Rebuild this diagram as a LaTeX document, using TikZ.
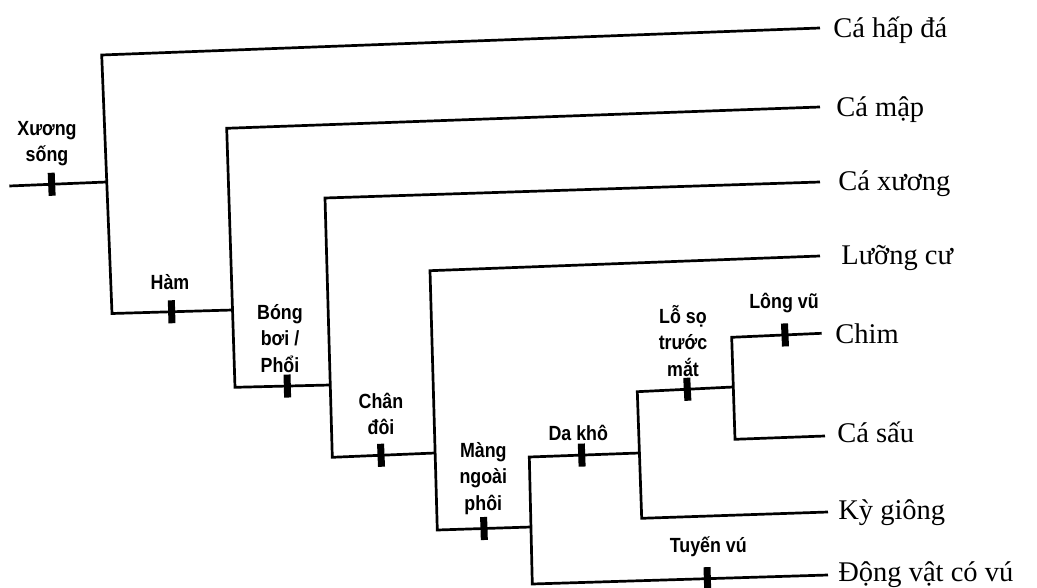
\documentclass[tikz,border=0pt]{standalone}
\usepackage{fontspec}
\setmainfont{Liberation Serif}
\newfontfamily\labfont{Liberation Sans}[FakeStretch=0.87]
\begin{document}
\begin{tikzpicture}[x=1pt,y=-1pt,line width=2.7pt,line join=miter,
  tick/.style={fill=black,draw=none,inner sep=0pt,minimum width=7pt,minimum height=23pt,sloped},
  trait/.style={font=\labfont\bfseries\fontsize{20.5}{26.5}\selectfont,align=center,inner sep=0pt},
  taxon/.style={font=\fontsize{28.5}{34}\selectfont,anchor=base west,inner sep=0pt}]
\useasboundingbox (0,0) rectangle (1037,588);
% corner / end coordinates
\coordinate (r0) at (9.3,186);
\coordinate (n1j) at (106.7,182);
\coordinate (n1t) at (101.7,55);
\coordinate (n1b) at (112,313.5);
\coordinate (n2j) at (232.5,310);
\coordinate (n2t) at (226.7,128.3);
\coordinate (n2b) at (235,387.3);
\coordinate (n3j) at (330.3,385);
\coordinate (n3t) at (325,198);
\coordinate (n3b) at (332.3,457.3);
\coordinate (n4j) at (435.1,453);
\coordinate (n4t) at (430,270.7);
\coordinate (n4b) at (437.3,530);
\coordinate (n5j) at (531,527);
\coordinate (n5t) at (529.3,457);
\coordinate (n5b) at (532.3,584);
\coordinate (n6j) at (639.4,453);
\coordinate (n6t) at (637.3,391.7);
\coordinate (n6b) at (641.7,518.3);
\coordinate (n7j) at (733.3,387);
\coordinate (n7t) at (731.7,337.3);
\coordinate (n7b) at (735,439.3);
\coordinate (e1) at (820,28);
\coordinate (e2) at (820,107);
\coordinate (e3) at (820,182);
\coordinate (e4) at (820,256);
\coordinate (e5) at (821.7,333.3);
\coordinate (e6) at (825,436);
\coordinate (e7) at (828,512);
\coordinate (e8) at (828,575);
% branches
\draw (r0) -- node[tick,pos=.435] (k1) {} (n1j);
\draw (e1) -- (n1t) -- (n1b) -- node[tick,pos=.495] (k2) {} (n2j);
\draw (e2) -- (n2t) -- (n2b) -- node[tick,pos=.549] (k3) {} (n3j);
\draw (e3) -- (n3t) -- (n3b) -- node[tick,pos=.474] (k4) {} (n4j);
\draw (e4) -- (n4t) -- (n4b) -- node[tick,pos=.498] (k5) {} (n5j);
\draw (n6j) -- node[tick,pos=.524] (k6) {} (n5t) -- (n5b) -- node[tick,pos=.592] (k9) {} (e8);
\draw (n7j) -- node[tick,pos=.479] (k7) {} (n6t) -- (n6b) -- (e7);
\draw (e5) -- node[tick,pos=.408] (k8) {} (n7t) -- (n7b) -- (e6);
% trait labels
\node[trait] (l1) at (47,143.5) {Xương\\sống};
\node[trait] (l2) at (170,281.7) {Hàm};
\node[trait] (l3) at (280,338.3) {Bóng\\bơi /\\Phổi};
\node[trait] (l4) at (381,413.7) {Chân\\đôi};
\node[trait] (l5) at (483.3,478.3) {Màng\\ngoài\\phôi};
\node[trait] (l6) at (578.3,432.7) {Da khô};
\node[trait] (l7) at (683,341) {Lỗ sọ\\trước\\mắt};
\node[trait] (l8) at (784,303.3) {Lông vũ};
\node[trait] (l9) at (708.3,546.7) {Tuyến vú};
% taxa
\node[taxon] (t1) at (832,38) {Cá hấp đá};
\node[taxon] (t2) at (835,116.2) {Cá mập};
\node[taxon] (t3) at (837,191) {Cá xương};
\node[taxon] (t4) at (840,264.5) {Lưỡng cư};
\node[taxon] (t5) at (834,343) {Chim};
\node[taxon] (t6) at (836,442.5) {Cá sấu};
\node[taxon] (t7) at (837,519.5) {Kỳ giông};
\node[taxon] (t8) at (837,581) {Động vật có vú};
\end{tikzpicture}
\end{document}
